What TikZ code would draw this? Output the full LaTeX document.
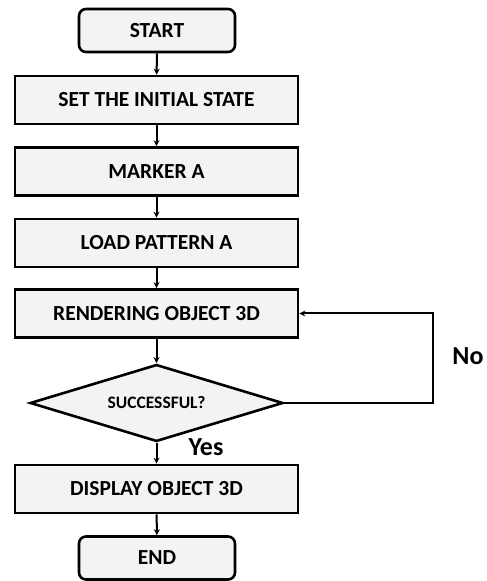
\documentclass[tikz,border=0pt]{standalone}
\usepackage{fontspec}
\setmainfont{Carlito}
\usetikzlibrary{shapes.geometric,arrows.meta}
\definecolor{boxfill}{RGB}{242,243,245}
\tikzset{
  base/.style={draw=black, line width=2.6pt, fill=boxfill, font=\fontsize{21.5}{23}\selectfont\bfseries, inner sep=0pt},
  term/.style={base, rounded corners=7pt, minimum width=156pt, minimum height=43pt},
  proc/.style={base, minimum width=283pt, minimum height=48pt},
  dec/.style={base, diamond, aspect=3.29, minimum width=253pt, minimum height=77pt, font=\fontsize{17.5}{19}\selectfont\bfseries},
  conn/.style={line width=2pt, -{Stealth[length=6pt,width=6pt]}},
  lab/.style={font=\fontsize{26}{28}\selectfont\bfseries}
}
\begin{document}
\begin{tikzpicture}[x=1pt,y=1pt]
\useasboundingbox (0,0) rectangle (487,581);
\node[term] (start) at (157,550.5) {START};
\node[proc] (init) at (156.5,481) {SET THE INITIAL STATE};
\node[proc] (marker) at (156.5,409.5) {MARKER A};
\node[proc] (load) at (156.5,338) {LOAD PATTERN A};
\node[proc] (render) at (156.5,267.5) {RENDERING OBJECT 3D};
\node[dec] (succ) at (156.5,178) {SUCCESSFUL?};
\node[proc] (display) at (156.5,92) {DISPLAY OBJECT 3D};
\node[term] (end) at (157,23) {END};
\coordinate (c1) at (433,178);
\coordinate (c2) at (433,267.5);
\draw[conn] (start) -- (init);
\draw[conn] (init) -- (marker);
\draw[conn] (marker) -- (load);
\draw[conn] (load) -- (render);
\draw[conn] (render) -- (succ);
\draw[conn] (succ) -- (display);
\draw[conn] (display) -- (end);
\draw[conn] (succ.east) -- (c1) -- (c2) -- (render.east);
\node[lab] (no) at (468,225) {No};
\node[lab] (yes) at (206,134) {Yes};
\end{tikzpicture}
\end{document}
